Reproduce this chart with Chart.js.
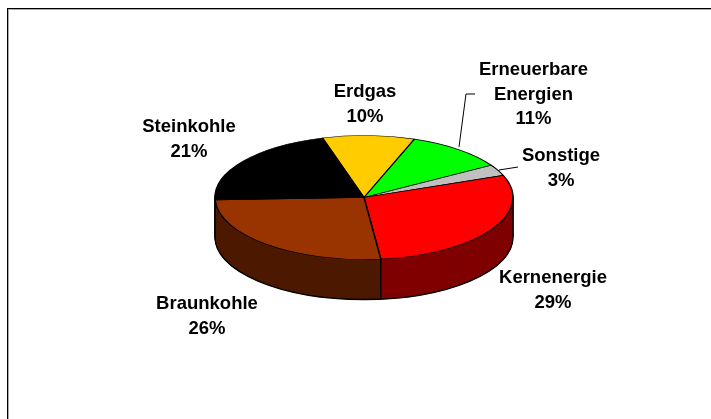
<!DOCTYPE html>
<html lang="en">
<head>
  <meta charset="UTF-8" />
  <title>Stromerzeugung</title>
  <script src="https://cdn.jsdelivr.net/npm/chart.js"></script>
  <style>
    html, body { margin: 0; padding: 0; background: #fff; }
    #wrap { position: absolute; left: 0; top: 0; width: 711px; height: 419px; }
  </style>
</head>
<body>
  <div id="wrap"><canvas id="pie"></canvas></div>

  <script>
    const categories = ['Erdgas', 'Erneuerbare Energien', 'Sonstige', 'Kernenergie', 'Braunkohle', 'Steinkohle'];
    const values = [10, 10.8, 2.9, 29, 26.2, 21.1];
    const topColors = ['#ffcc00', '#00ff00', '#c0c0c0', '#ff0000', '#993300', '#000000'];
    const wallColors = ['#806600', '#008000', '#606060', '#800000', '#4d1a00', '#000000'];

    // label text lines and where each block is centred
    const labelLines = [['Erdgas'], ['Erneuerbare', 'Energien'], ['Sonstige'], ['Kernenergie'], ['Braunkohle'], ['Steinkohle']];
    const labelPos = [[365, 92], [533.5, 70], [561, 156], [553, 278], [207, 304], [189, 127]];
    const leaders = [
      [[459, 147], [466, 94], [475, 94]],
      [[499, 170], [518, 167]]
    ];

    const cx = 364, cy = 197.5, rx = 149, ry = 62, depth = 40;
    const squash = ry / rx;

    // draws the arcs flattened, so the circle from Chart.js becomes the ellipse
    function flatten(ctx, chart, dy) {
      const a = chart.getDatasetMeta(0).data[0];
      ctx.translate(cx, cy + dy);
      ctx.scale(1, squash);
      ctx.translate(-a.x, -a.y);
    }

    const pie3d = {
      id: 'pie3d',
      beforeDatasetsDraw(chart) {
        const ctx = chart.ctx;
        const arcs = chart.getDatasetMeta(0).data;

        // wall: same arcs stacked from the bottom up in the dark colours
        for (let dy = depth; dy > 0; dy--) {
          arcs.forEach((arc, i) => {
            const saved = arc.options;
            arc.options = { ...saved, backgroundColor: wallColors[i], borderColor: wallColors[i], borderWidth: 1 };
            ctx.save();
            flatten(ctx, chart, dy);
            arc.draw(ctx);
            ctx.restore();
            arc.options = saved;
          });
        }

        // outline of the wall, taken from the arc angles
        ctx.save();
        ctx.strokeStyle = '#000';
        ctx.lineWidth = 1.3;
        ctx.beginPath();
        ctx.ellipse(cx, cy + depth, rx, ry, 0, 0, Math.PI);
        ctx.moveTo(cx - rx, cy);
        ctx.lineTo(cx - rx, cy + depth);
        ctx.moveTo(cx + rx, cy);
        ctx.lineTo(cx + rx, cy + depth);
        arcs.forEach(arc => {
          const y = Math.sin(arc.startAngle);
          if (y > 0) {
            const x = cx + rx * Math.cos(arc.startAngle);
            const top = cy + ry * y;
            ctx.moveTo(x, top);
            ctx.lineTo(x, top + depth);
          }
        });
        ctx.stroke();
        ctx.restore();

        ctx.save();
        flatten(ctx, chart, 0);
      },
      afterDatasetsDraw(chart) {
        const ctx = chart.ctx;
        ctx.restore();

        // frame: only top and left are visible, with a grey edge
        ctx.save();
        ctx.fillStyle = '#000';
        ctx.fillRect(7, 8, 704, 1);
        ctx.fillRect(7, 8, 1, 411);
        ctx.fillStyle = '#aaa';
        ctx.fillRect(8, 9, 703, 1);
        ctx.fillRect(8, 9, 1, 410);

        // leader lines
        ctx.strokeStyle = '#000';
        ctx.lineWidth = 1;
        leaders.forEach(pts => {
          ctx.beginPath();
          pts.forEach((p, i) => i ? ctx.lineTo(p[0], p[1]) : ctx.moveTo(p[0], p[1]));
          ctx.stroke();
        });

        // labels
        ctx.fillStyle = '#000';
        ctx.font = 'bold 18.5px "Liberation Sans"';
        ctx.textAlign = 'center';
        ctx.textBaseline = 'middle';
        values.forEach((v, i) => {
          const lines = [...labelLines[i], Math.round(v) + '%'];
          lines.forEach((t, j) => {
            ctx.fillText(t, labelPos[i][0], labelPos[i][1] + j * 24.5);
          });
        });
        ctx.restore();
      }
    };

    new Chart(document.getElementById('pie'), {
      type: 'pie',
      data: {
        labels: categories,
        datasets: [{
          data: values,
          backgroundColor: topColors,
          borderColor: '#000',
          borderWidth: 1.5,
          borderAlign: 'center'
        }]
      },
      options: {
        responsive: true,
        maintainAspectRatio: false,
        animation: false,
        rotation: -16.2,
        radius: rx,
        layout: { padding: 0 },
        plugins: { legend: { display: false }, tooltip: { enabled: false } }
      },
      plugins: [pie3d]
    });
  </script>
</body>
</html>
